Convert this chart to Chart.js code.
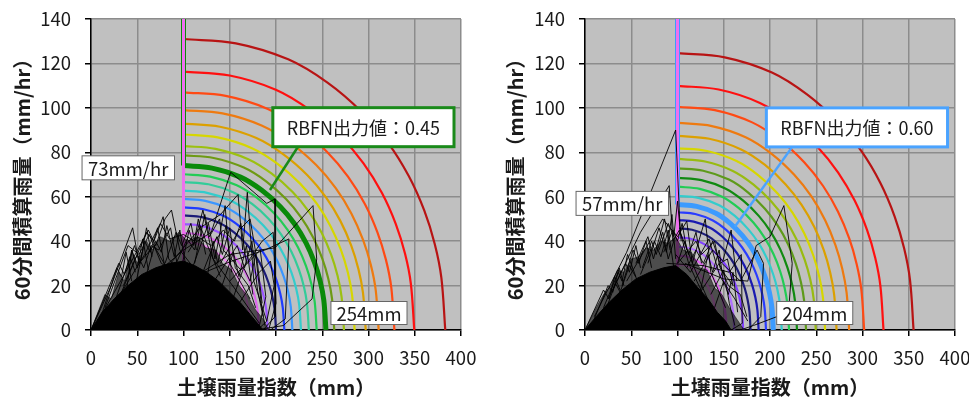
<!DOCTYPE html>
<html>
<head>
<meta charset="utf-8">
<script src="https://cdn.jsdelivr.net/npm/chart.js@4.4.1/dist/chart.umd.min.js"></script>
<style>
  html, body { margin: 0; padding: 0; background: #fff; }
  #wrap { position: relative; width: 969px; height: 405px; }
  #left-chart { position: absolute; left: 0; top: 0; }
  #right-chart { position: absolute; left: 480px; top: 0; }
</style>
</head>
<body>
<div id="wrap">
  <canvas id="left-chart" width="480" height="405"></canvas>
  <canvas id="right-chart" width="489" height="405"></canvas>
</div>
<script>
// Axes
const xTicks = [0, 50, 100, 150, 200, 250, 300, 350, 400];
const yTicks = [0, 20, 40, 60, 80, 100, 120, 140];
const xTitle = "土壌雨量指数（mm）";
const yTitle = "60分間積算雨量（mm/hr）";

// Contours start on the 100 mm line
const baseSoil = 100;
// Shape of a contour (share of the run from 100 mm, share of the top value)
const arcShareX = [0, 0.2, 0.4, 0.55, 0.68, 0.78, 0.86, 0.92, 0.96, 0.985, 1];
const arcShareY = [1, 0.985, 0.93, 0.85, 0.75, 0.645, 0.53, 0.41, 0.295, 0.18, 0];

// Left chart (RBFN 0.45)
const leftTops = [39.5, 43.7, 47.7, 51.6, 55.2, 59, 62.7, 66.6, 70.1, 74, 78.6, 82.8, 88, 92.9, 99, 107, 116.3, 131];
const leftEnds = [172, 181.6, 191, 200, 209, 217.7, 227, 235.5, 244, 254, 263, 273.5, 285, 297, 311, 328, 349.5, 383];
const leftColors = ["#f08cf0", "#dd66ee", "#9955ff", "#1c1c78", "#1e3cff", "#3a96ff", "#33cccc", "#33cc99", "#22cc55",
                    "#0a8a0a", "#6e9a14", "#9cc010", "#d6d600", "#dca000", "#ee7a10", "#ff4a14", "#ff1010", "#b81414"];
const leftThick = 9;
const leftOutput = "0.45";
const leftRain = 73;
const leftSoil = 254;
const leftBoxAt = [294.5, 91.3];
const leftLeader = [[223.8, 82.5], [193.5, 63]];
const leftCore = [[0,0],[12,8],[25,14],[40,20],[55,25],[70,28],[85,30],[100,31],[112,29],[125,26],[138,22],[150,17],[162,12],[172,7],[180,3],[186,0]];
const leftHaze = [[0,0],[15,16],[22,14],[30,26],[36,22],[44,36],[50,30],[60,40],[66,36],[75,42],[85,40],[95,44],[104,40],
                  [115,42],[124,37],[135,36],[142,30],[152,27],[160,20],[170,15],[178,9],[186,5],[192,0]];
const leftTraces = [
  [[0,0],[22,20],[45,46],[52,30],[68,38],[90,22],[125,8],[150,1],[120,0]],
  [[5,2],[40,28],[62,45],[70,38],[80,50],[87,54],[96,36],[130,18],[165,4],[175,0]],
  [[20,8],[58,34],[75,48],[85,41],[100,43],[112,40],[121,54],[132,32],[160,16],[182,3]],
  [[50,18],[100,36],[130,44],[151,71],[190,57],[199,59],[199,6],[186,0]],
  [[70,22],[118,46],[140,52],[159,61],[164,36],[169,62],[176,22],[190,4],[180,0]],
  [[90,18],[150,34],[199,37],[240,56],[244,32],[239,14],[208,2],[178,0]],
  [[100,22],[152,31],[188,36],[214,41],[210,5],[194,0]],
  [[15,10],[40,38],[52,34],[63,43],[76,30],[100,24]],
  [[30,14],[60,44],[68,40],[78,51],[84,32],[110,20]],
  [[108,26],[127,48],[134,32],[145,56],[150,30],[172,14]],
  [[112,30],[123,52],[128,42],[139,50],[143,36],[162,27],[183,36],[189,15],[181,0]],
  [[92,30],[104,41],[112,36],[118,47],[126,38],[140,24]],
  [[150,22],[170,31],[185,40],[197,44],[200,12],[192,0]],
  [[48,20],[58,40],[64,35],[72,46],[80,28],[95,22]],
  [[160,12],[182,26],[194,31],[198,20],[190,4]],
  [[38,16],[44,36],[50,28],[56,41],[62,27]],
  [[120,25],[136,42],[142,34],[150,46],[156,28],[170,20],[178,10]],
  [[130,20],[158,38],[166,28],[174,40],[180,18],[186,6]],
  [[80,30],[92,44],[98,38],[108,48],[114,36]],
  [[140,30],[160,45],[172,50],[180,30],[185,12]],
  [[10,5],[28,28],[33,24],[38,35],[44,22]],
  [[25,12],[47,38],[53,30],[60,46],[66,33]],
  [[60,25],[70,40],[76,35],[82,47],[90,33],[96,45],[102,30]],
  [[98,28],[106,45],[111,38],[116,50],[124,34]],
  [[125,22],[132,40],[137,30],[146,47],[152,26]],
  [[140,18],[154,35],[160,24],[168,38],[175,16]],
  [[150,10],[165,28],[172,22],[178,34],[184,12],[188,2]],
  [[35,20],[50,34],[57,28],[65,38],[73,36],[86,46],[93,30]],
  [[105,35],[115,42],[130,38],[143,45],[155,40],[162,48],[168,30]],
  [[0,0],[30,30],[36,25],[42,33],[48,26]]
];

// Right chart (RBFN 0.60)
const rightTops = [29.5, 33.5, 37.5, 41.7, 45.8, 49.5, 53, 56.5, 60.4, 64.5, 68.5, 72.8, 77, 81.8, 87.4, 93.2, 100.5, 109.9, 124.6];
const rightEnds = [143, 153, 161.4, 171, 179, 187.7, 195.7, 203.6, 212.7, 220.6, 229.2, 239, 249.5, 259.6, 272, 285.6, 301.8, 322.7, 355.2];
const rightColors = ["#f08cf0", "#dd66ee", "#b070ff", "#8040ff", "#1c1c78", "#1a1ab0", "#2a3cff", "#3d9bff", "#33cccc", "#22cc55",
                     "#118a11", "#5e9a1a", "#99bb11", "#d6d600", "#dca000", "#ee7a10", "#ff4a14", "#ff1010", "#b81414"];
const rightThick = 7;
const rightOutput = "0.60";
const rightRain = 57;
const rightSoil = 204;
const rightBoxAt = [294, 91.2];
const rightLeader = [[223.5, 82.1], [162, 46.5]];
const rightCore = [[0,0],[12,6],[25,12],[40,18],[55,23],[70,26],[85,28],[98,29],[110,25],[122,19],[133,14],[143,8],[152,4],[158,0]];
const rightHaze = [[0,0],[12,10],[20,16],[28,20],[35,27],[42,26],[50,32],[58,33],[66,37],[74,36],[82,40],[90,39],[98,42],
                   [106,36],[115,35],[124,28],[132,27],[140,19],[148,16],[156,10],[164,5],[172,0]];
const rightTraces = [
  [[10,6],[45,35],[98,90],[103,44],[112,30],[132,12],[150,0]],
  [[25,14],[60,44],[91,65],[95,40],[102,45],[122,24],[142,5]],
  [[45,22],[84,50],[100,42],[110,49],[116,30],[130,50],[136,26],[152,10]],
  [[88,30],[128,29],[156,26],[169,34],[170,3],[158,0]],
  [[108,30],[150,23],[176,22],[185,38],[200,42],[215,56],[224,30],[220,8],[182,2],[168,0]],
  [[20,10],[36,26],[40,22],[46,34],[55,24]],
  [[55,30],[68,42],[74,32],[86,50],[92,36]],
  [[118,22],[138,36],[149,31],[158,45],[164,22]],
  [[98,34],[114,26],[134,41],[146,24],[162,14],[176,4]],
  [[136,16],[150,27],[156,12],[162,2]],
  [[18,4],[33,21],[38,17],[48,29],[60,20]],
  [[68,30],[80,46],[88,35],[94,52],[98,32]],
  [[148,30],[168,22],[186,36],[193,30],[190,6],[176,0]],
  [[60,25],[75,40],[82,33],[90,45],[96,28]],
  [[100,30],[120,40],[126,34],[140,40],[146,28],[160,20]],
  [[40,20],[52,36],[58,30],[66,40],[72,28]],
  [[120,14],[145,30],[155,20],[168,16],[175,6]],
  [[80,36],[90,48],[96,42],[100,58],[104,40]],
  [[10,5],[25,20],[30,17],[37,28],[42,20]],
  [[30,18],[44,30],[48,26],[55,38],[60,28]],
  [[62,28],[72,40],[77,34],[84,44],[90,32],[96,40]],
  [[100,30],[108,40],[112,34],[120,44],[126,30]],
  [[125,18],[133,34],[138,26],[145,36],[150,20]],
  [[140,10],[150,22],[155,16],[160,26],[165,8]],
  [[85,35],[95,45],[100,40],[105,48],[110,36]],
  [[0,0],[20,18],[26,14],[32,24],[38,18]],
  [[110,28],[120,36],[128,30],[138,40],[146,30],[154,32],[160,20]]
];

const fontFamily = "'Noto Sans CJK JP', 'Noto Sans', sans-serif";

function toPoints(pairs) {
    return pairs.map(p => ({ x: p[0], y: p[1] }));
}

// one contour from its top value (at 100 mm) and its end on the x axis
function contourPoints(top, end) {
    return arcShareX.map((s, i) => ({ x: baseSoil + (end - baseSoil) * s, y: top * arcShareY[i] }));
}

function buildDatasets(p) {
    const line = { showLine: true, pointRadius: 0, fill: false };
    const sets = [];
    // leader of the RBFN box, drawn on top of everything
    sets.push({ ...line, data: toPoints(p.leader), borderColor: p.frame, borderWidth: 2.5, order: 0 });
    // rainfall traces
    p.traces.forEach(t => {
        sets.push({ ...line, data: toPoints(t), borderColor: "rgba(0,0,0,0.9)", borderWidth: 1, order: 1 });
    });
    sets.push({ ...line, data: toPoints(p.core), borderColor: "#000", borderWidth: 1, backgroundColor: "#000", fill: "origin", order: 1 });
    sets.push({ ...line, data: toPoints(p.haze), borderColor: "rgba(0,0,0,0.5)", borderWidth: 1, backgroundColor: "rgba(0,0,0,0.6)", fill: "origin", order: 1 });
    // pink guide on the 100 mm line, with the threshold contour running up beneath it
    const yTop = yTicks[yTicks.length - 1];
    sets.push({ ...line, data: [{ x: baseSoil, y: 0 }, { x: baseSoil, y: yTop }], borderColor: "#ee70ee", borderWidth: 3, order: 2 });
    sets.push({ ...line, data: [{ x: baseSoil, y: p.tops[p.thick] }, { x: baseSoil, y: yTop }], borderColor: p.colors[p.thick], borderWidth: 5, order: 2 });
    // contours
    p.tops.forEach((top, i) => {
        sets.push({
            ...line,
            data: contourPoints(top, p.ends[i]),
            borderColor: p.colors[i],
            borderWidth: i === p.thick ? 5 : 2.2,
            tension: 0.35,
            order: 3
        });
    });
    return sets;
}

function drawLabelBox(ctx, text, x, y, align, frame, frameWidth, size, padX, h) {
    ctx.save();
    ctx.font = size + "px " + fontFamily;
    const w = ctx.measureText(text).width + padX * 2;
    const left = align === "right" ? x - w : (align === "left" ? x : x - w / 2);
    ctx.fillStyle = "#fff";
    ctx.fillRect(left, y - h / 2, w, h);
    ctx.lineWidth = frameWidth;
    ctx.strokeStyle = frame;
    ctx.strokeRect(left, y - h / 2, w, h);
    ctx.fillStyle = "#1a1a1a";
    ctx.textAlign = "center";
    ctx.textBaseline = "middle";
    ctx.fillText(text, left + w / 2, y + 1);
    ctx.restore();
}

// Background of the plot area
const plotBackground = {
    id: "plotBackground",
    beforeDraw(chart) {
        const a = chart.chartArea;
        chart.ctx.save();
        chart.ctx.fillStyle = "#c0c0c0";
        chart.ctx.fillRect(a.left, a.top, a.right - a.left, a.bottom - a.top);
        chart.ctx.restore();
    }
};

// Text boxes: rain threshold, soil threshold and RBFN output
const callouts = {
    id: "callouts",
    afterDatasetsDraw(chart, args, o) {
        const ctx = chart.ctx;
        const xs = chart.scales.x, ys = chart.scales.y;
        drawLabelBox(ctx, o.rain + "mm/hr", xs.getPixelForValue(baseSoil) - 9, ys.getPixelForValue(o.rain), "right", "#666", 1, 18.5, 6, 24);
        drawLabelBox(ctx, o.soil + "mm", xs.getPixelForValue(o.soil) + o.soilGap, chart.chartArea.bottom - 17, "left", "#666", 1, 18.5, 5.5, 23);
        drawLabelBox(ctx, "RBFN出力値：" + o.output, xs.getPixelForValue(o.boxAt[0]), ys.getPixelForValue(o.boxAt[1]), "center", o.frame, 3, 18, 14, 39);
    }
};

function makeChart(canvasId, p) {
    const tickFont = { family: fontFamily, size: 18.5 };
    const titleFont = { family: fontFamily, size: 20, weight: "bold" };
    return new Chart(document.getElementById(canvasId), {
        type: "scatter",
        data: { datasets: buildDatasets(p) },
        options: {
            responsive: false,
            animation: false,
            events: [],
            layout: { padding: { top: 19, right: p.padRight, left: 0, bottom: 0 } },
            plugins: {
                legend: { display: false },
                tooltip: { enabled: false },
                callouts: { rain: p.rain, soil: p.soil, soilGap: p.soilGap, output: p.output, boxAt: p.boxAt, frame: p.frame }
            },
            scales: {
                x: {
                    type: "linear",
                    min: xTicks[0],
                    max: xTicks[xTicks.length - 1],
                    afterBuildTicks: s => { s.ticks = xTicks.map(v => ({ value: v })); },
                    afterFit: s => { s.height = 75; s.paddingLeft = 0; s.paddingRight = 0; },
                    ticks: { font: tickFont, color: "#1a1a1a", padding: 11, maxRotation: 0, autoSkip: false },
                    grid: { color: "#8c8c8c", lineWidth: 1.5, tickColor: "#000", tickLength: 6 },
                    border: { color: "#000", width: 1.5 },
                    title: { display: true, text: xTitle, font: titleFont, color: "#1a1a1a", padding: { top: 0, bottom: 6 } }
                },
                y: {
                    type: "linear",
                    min: yTicks[0],
                    max: yTicks[yTicks.length - 1],
                    afterBuildTicks: s => { s.ticks = yTicks.map(v => ({ value: v })); },
                    afterFit: s => { s.width = p.axisWidth; s.paddingTop = 0; s.paddingBottom = 0; },
                    ticks: { font: tickFont, color: "#1a1a1a", padding: 14, autoSkip: false },
                    grid: { color: "#8c8c8c", lineWidth: 1.5, tickColor: "#000", tickLength: 6 },
                    border: { color: "#000", width: 1.5 },
                    title: { display: true, text: yTitle, font: titleFont, color: "#1a1a1a", padding: { top: p.titlePad, bottom: 0 } }
                }
            }
        },
        plugins: [plotBackground, callouts]
    });
}

makeChart("left-chart", {
    tops: leftTops, ends: leftEnds, colors: leftColors, thick: leftThick,
    core: leftCore, haze: leftHaze, traces: leftTraces, leader: leftLeader, frame: "#1a8a1a",
    rain: leftRain, soil: leftSoil, soilGap: 5, output: leftOutput, boxAt: leftBoxAt,
    axisWidth: 91, padRight: 19, titlePad: 10
});

makeChart("right-chart", {
    tops: rightTops, ends: rightEnds, colors: rightColors, thick: rightThick,
    core: rightCore, haze: rightHaze, traces: rightTraces, leader: rightLeader, frame: "#4aa3ff",
    rain: rightRain, soil: rightSoil, soilGap: 3, output: rightOutput, boxAt: rightBoxAt,
    axisWidth: 105, padRight: 14, titlePad: 23
});
</script>
</body>
</html>
